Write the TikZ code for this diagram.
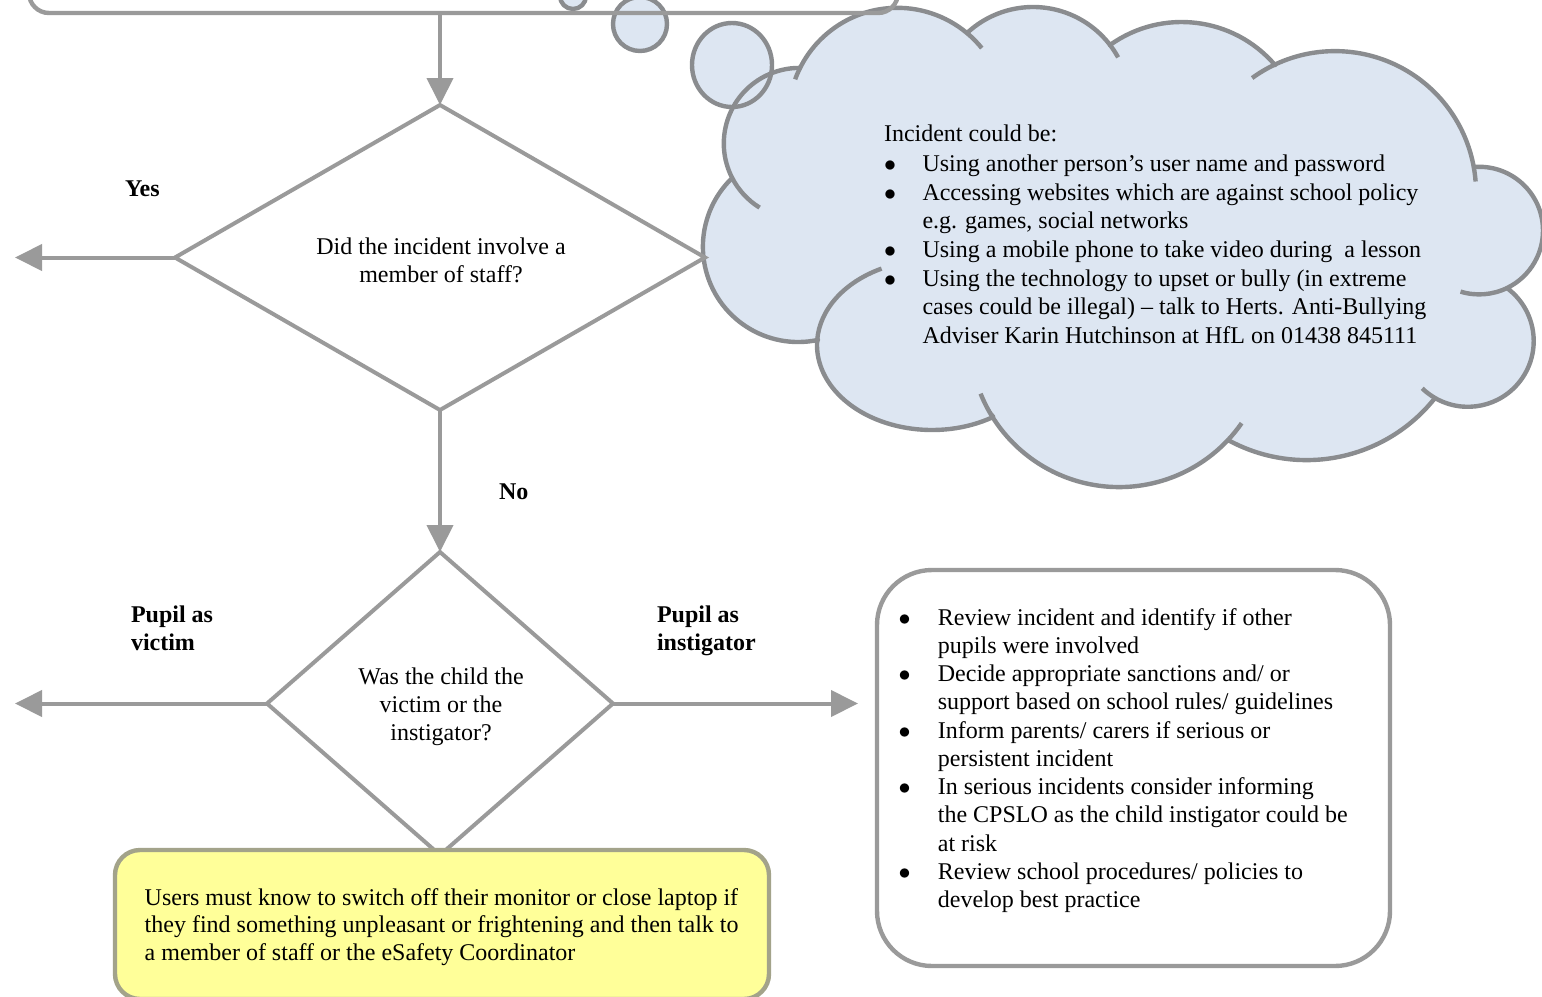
\documentclass[tikz,border=0pt]{standalone}
\usepackage{fontspec}
\setmainfont{Liberation Serif}
\usetikzlibrary{arrows.meta,shapes.geometric}
\definecolor{flowgray}{HTML}{9A9A9A}
\definecolor{cloudline}{HTML}{8A8C8F}
\definecolor{cloudfill}{HTML}{DDE6F2}
\definecolor{noteyellow}{HTML}{FFFF99}
\definecolor{noteline}{HTML}{A3A38A}
\newcommand\rows[2][l]{\begin{tabular}[t]{@{}#1@{}}#2\end{tabular}}
\newcommand\blist[1]{\begin{tabular}[t]{@{}l@{}l@{}}#1\end{tabular}}
\newcommand\bl[1]{\makebox[#1][l]{$\bullet$}}
\begin{document}
\begin{tikzpicture}[x=0.5pt,y=-0.5pt,
  every node/.style={inner sep=0pt, outer sep=0pt, font=\fontsize{12}{14.1}\selectfont},
  flowline/.style={draw=flowgray, line width=2pt},
  arr/.style={flowline, -{Triangle[length=13.5pt,width=13pt]}},
  diam/.style={diamond, draw=flowgray, line width=2pt, aspect=1},
  cloudedge/.style={draw=cloudline, line width=2.2pt, line join=round},
  lbl/.style={font=\fontsize{12}{13.7}\selectfont\bfseries, anchor=base west},
  txt/.style={anchor=base west},
  ctxt/.style={anchor=base},
  box/.style={draw=flowgray, line width=2.2pt}
]
\useasboundingbox (0,0) rectangle (1542,996);
\clip (0,0) rectangle (1542,996);

% ---------- cloud (lobes as arcs) ----------
\def\cloudpath{([shift={(799.3,143.4)}]152.8:75.5) arc[start angle=152.8,end angle=270.5,radius=75.5]
 -- ([shift={(897.3,116.5)}]206.5:108.7) arc[start angle=206.5,end angle=309.9,radius=108.7]
 -- ([shift={(1033.1,103.9)}]227:96.9) arc[start angle=227,end angle=322.5,radius=96.9]
 -- ([shift={(1181.6,144.9)}]234.4:122.9) arc[start angle=234.4,end angle=319.5,radius=122.9]
 -- ([shift={(1335,192.1)}]244.7:141) arc[start angle=244.7,end angle=349.8,radius=141]
 -- ([shift={(1479.2,230.6)}]265.3:63.8) arc[start angle=265.3,end angle=424.2,radius=63.8]
 -- ([shift={(1467.9,341)}]306.4:65.8) arc[start angle=306.4,end angle=480,radius=65.8]
 -- ([shift={(1306.6,296.3)}]38.4:163.8) arc[start angle=38.4,end angle=118.7,radius=163.8]
 -- ([shift={(1119.1,337.7)}]43.2:149.4) arc[start angle=43.2,end angle=149.7,radius=149.4]
 -- ([shift={(932,345)}]57.8:115 and 85) arc[start angle=57.8,end angle=183.4,x radius=115,y radius=85]
 -- ([shift={(798.2,246.7)}]78:95.3) arc[start angle=78,end angle=226.1,radius=95.3]
 -- cycle}
\path[fill=cloudfill] \cloudpath;
\path[fill=cloudfill] (573,-4) circle[radius=13];
\path[fill=cloudfill] (640,24) circle[radius=27];
\path[fill=cloudfill] (732,65) ellipse[x radius=40, y radius=42];
\path[cloudedge] \cloudpath;
% inner stubs of the cloud lobes
\draw[cloudedge] ([shift={(799.3,143.4)}]152.8:75.5) arc[start angle=152.8,end angle=121.7,radius=75.5];
\draw[cloudedge] ([shift={(897.3,116.5)}]206.5:108.7) arc[start angle=206.5,end angle=200,radius=108.7];
\draw[cloudedge] ([shift={(897.3,116.5)}]309.9:108.7) arc[start angle=309.9,end angle=321,radius=108.7];
\draw[cloudedge] ([shift={(1033.1,103.9)}]322.5:96.9) arc[start angle=322.5,end angle=331.3,radius=96.9];
\draw[cloudedge] ([shift={(1335,192.1)}]244.7:141) arc[start angle=244.7,end angle=234,radius=141];
\draw[cloudedge] ([shift={(1335,192.1)}]349.8:141) arc[start angle=349.8,end angle=355.7,radius=141];
\draw[cloudedge] ([shift={(1479.2,230.6)}]64.2:63.8) arc[start angle=64.2,end angle=107,radius=63.8];
\draw[cloudedge] ([shift={(1467.9,341)}]120:65.8) arc[start angle=120,end angle=134,radius=65.8];
\draw[cloudedge] ([shift={(1119.1,337.7)}]43.2:149.4) arc[start angle=43.2,end angle=34.9,radius=149.4];
\draw[cloudedge] ([shift={(1119.1,337.7)}]149.7:149.4) arc[start angle=149.7,end angle=158,radius=149.4];
\draw[cloudedge] ([shift={(932,345)}]183.4:115 and 85) arc[start angle=183.4,end angle=244,x radius=115,y radius=85];
% thought bubbles
\draw[cloudedge] (573,-4) circle[radius=13];
\draw[cloudedge] (640,24) circle[radius=27];
\draw[cloudedge] (732,65) ellipse[x radius=40, y radius=42];

\node[txt] (ctitle) at (884,141.7) {Incident could be:};
\node[txt, font=\fontsize{12}{14.3}\selectfont] (clist) at (884,171.7) {\blist{%
\bl{19.25pt} & Using another person’s user name and password\\
\bl{19.25pt} & Accessing websites which are against school policy\\
 & e.g. games, social networks\\
\bl{19.25pt} & Using a mobile phone to take video during \ a lesson\\
\bl{19.25pt} & Using the technology to upset or bully (in extreme\\
 & cases could be illegal) – talk to Herts. Anti-Bullying\\
 & Adviser Karin Hutchinson at HfL on 01438 845111}};

% ---------- flow ----------
\node[box, rounded corners=10pt, minimum width=434.5pt, minimum height=70pt, anchor=south west] (topbox) at (29,13) {};

\node[diam, minimum width=265pt, minimum height=152.5pt] (d1) at (440,257.5) {};
\node[ctxt] (d1t) at (441,254) {\rows[c]{Did the incident involve a\\member of staff?}};

\node[diam, minimum width=173pt, minimum height=151.5pt] (d2) at (440,703.5) {};
\node[ctxt, font=\fontsize{12}{14}\selectfont] (d2t) at (441,684) {\rows[c]{Was the child the\\victim or the\\instigator?}};

\coordinate (yesend) at (15,257.5);
\coordinate (victimend) at (15,703.5);

\node[box, rounded corners=27.5pt, minimum width=256.5pt, minimum height=198pt, anchor=north west, fill=white] (rbox) at (877,570) {};
\node[txt, font=\fontsize{12}{14.13}\selectfont] (rlist) at (898.6,625) {\blist{%
\bl{19.65pt} & Review incident and identify if other\\
 & pupils were involved\\
\bl{19.65pt} & Decide appropriate sanctions and/ or\\
 & support based on school rules/ guidelines\\
\bl{19.65pt} & Inform parents/ carers if serious or\\
 & persistent incident\\
\bl{19.65pt} & In serious incidents consider informing\\
 & the CPSLO as the child instigator could be\\
 & at risk\\
\bl{19.65pt} & Review school procedures/ policies to\\
 & develop best practice}};

\node[draw=noteline, fill=noteyellow, line width=2.2pt, rounded corners=12.5pt, minimum width=327pt, minimum height=74.5pt, anchor=north west] (ybox) at (115,850) {};
\node[txt, font=\fontsize{12}{13.75}\selectfont] (yt) at (144.7,905) {\rows{Users must know to switch off their monitor or close laptop if\\they find something unpleasant or frightening and then talk to\\a member of staff or the eSafety Coordinator}};

\draw[arr] (topbox.south -| d1.north) -- (d1.north);
\draw[arr] (d1.west) -- (yesend);
\draw[arr] (d1.south) -- (d2.north);
\draw[arr] (d2.west) -- (victimend);
\draw[arr, shorten >=9.5pt] (d2.east) -- (d2.east -| rbox.west);

\node[lbl] (yes) at (125,196.5) {Yes};
\node[lbl] (no) at (499,499) {No};
\node[lbl] (victim) at (131,622.7) {\rows{Pupil as\\victim}};
\node[lbl] (instig) at (657,622.7) {\rows{Pupil as\\instigator}};
\end{tikzpicture}
\end{document}
